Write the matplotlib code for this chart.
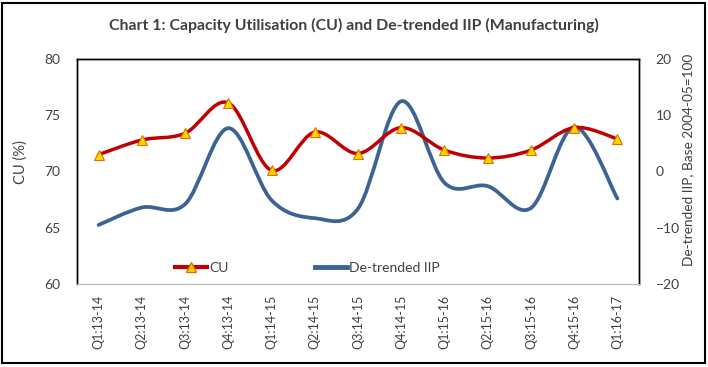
import numpy as np
import matplotlib
matplotlib.use('Agg')
import matplotlib.pyplot as plt
from matplotlib.path import Path
from matplotlib.patches import PathPatch, Rectangle
from matplotlib.lines import Line2D

plt.rcParams['font.family'] = ['Lato', 'DejaVu Sans']

# Data
quarters = ['Q1:13-14', 'Q2:13-14', 'Q3:13-14', 'Q4:13-14',
            'Q1:14-15', 'Q2:14-15', 'Q3:14-15', 'Q4:14-15',
            'Q1:15-16', 'Q2:15-16', 'Q3:15-16', 'Q4:15-16', 'Q1:16-17']
cu = [71.5, 72.8, 73.4, 76.1, 70.1, 73.5, 71.6, 73.9, 71.9, 71.2, 71.9, 73.9, 72.9]
iip = [-9.5, -6.4, -5.8, 7.7, -5.1, -8.3, -6.6, 12.5, -2.0, -2.6, -6.5, 7.9, -4.8]

red = '#C00000'
blue = '#3B6494'
txt = '#404040'


def smooth_path(x, y):
    # excel-like smoothed line: cubic bezier through the points
    x = np.asarray(x, float)
    y = np.asarray(y, float)
    n = len(x)
    verts = [(x[0], y[0])]
    codes = [Path.MOVETO]
    for i in range(n - 1):
        i0 = max(i - 1, 0)
        i3 = min(i + 2, n - 1)
        c1 = (x[i] + (x[i + 1] - x[i0]) / 6.0, y[i] + (y[i + 1] - y[i0]) / 6.0)
        c2 = (x[i + 1] - (x[i3] - x[i]) / 6.0, y[i + 1] - (y[i3] - y[i]) / 6.0)
        verts += [c1, c2, (x[i + 1], y[i + 1])]
        codes += [Path.CURVE4] * 3
    return Path(verts, codes)


fig = plt.figure(figsize=(7.08, 3.67), dpi=100)
ax = fig.add_axes([77 / 708, 1 - 284 / 367, (639 - 77) / 708, (284 - 59) / 367])
ax2 = ax.twinx()

xs = np.arange(len(quarters))

ax2.add_patch(PathPatch(smooth_path(xs, iip), fill=False, edgecolor=blue, lw=2.7,
                        capstyle='round', zorder=2))
ax.add_patch(PathPatch(smooth_path(xs, cu), fill=False, edgecolor=red, lw=2.5,
                       capstyle='round', zorder=3))
ax.plot(xs, cu, linestyle='none', marker='^', markersize=7,
        markerfacecolor='#FFD700', markeredgecolor='#E07000', markeredgewidth=0.8, zorder=4)

# put left axis above right so red line sits on top
ax.set_zorder(ax2.get_zorder() + 1)
ax.patch.set_visible(False)

ax.set_xlim(-0.5, len(quarters) - 0.5)
ax.set_ylim(60, 80)
ax.set_yticks([60, 65, 70, 75, 80])
ax2.set_ylim(-20, 20)
ax2.set_yticks([-20, -10, 0, 10, 20])

ax.set_xticks(xs)
ax.set_xticklabels(quarters, rotation=90, fontsize=9, color=txt)
ax.tick_params(axis='both', length=0, pad=8, labelcolor=txt)
ax.tick_params(axis='y', labelsize=10, pad=12)
ax2.tick_params(axis='y', length=0, labelsize=10, pad=12, labelcolor=txt)

ax.set_ylabel('CU (%)', fontsize=10.5, color=txt)
ax.yaxis.set_label_coords(-0.088, 0.54)
ax2.set_ylabel('De-trended IIP, Base 2004-05=100', fontsize=9.8, color=txt, va='center')
ax2.yaxis.set_label_coords(1.087, 0.55)

for a in (ax, ax2):
    for side in ('left', 'top', 'right'):
        a.spines[side].set_color('black')
        a.spines[side].set_linewidth(1.0)
    a.spines['bottom'].set_color('#BFBFBF')

handles = [Line2D([], [], color=red, lw=3, marker='^', markersize=7,
                  markerfacecolor='#FFD700', markeredgecolor='#E07000'),
           Line2D([], [], color=blue, lw=3.5)]
ax.legend(handles, ['CU', 'De-trended IIP'], loc='center', bbox_to_anchor=(0.41, 0.07),
          ncol=2, frameon=False, fontsize=10, handlelength=2.3, handletextpad=0.15,
          columnspacing=6.2, labelcolor=txt)

fig.text(0.5, 1 - 25 / 367, 'Chart 1: Capacity Utilisation (CU) and De-trended IIP (Manufacturing)',
         ha='center', va='center', fontsize=11.4, fontweight='bold', color=txt)

fig.patches.append(Rectangle((0.003, 0.01), 0.993, 0.982, transform=fig.transFigure,
                             fill=False, edgecolor='black', lw=1.5))

fig.savefig('out.png', dpi=100)
